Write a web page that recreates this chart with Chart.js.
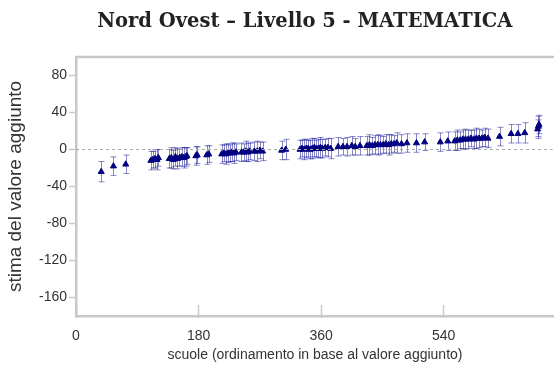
<!DOCTYPE html>
<html>
<head>
<meta charset="utf-8">
<script src="https://cdn.jsdelivr.net/npm/chart.js@4.4.0/dist/chart.umd.min.js"></script>
<style>
  html, body { margin: 0; padding: 0; background: #fff; }
</style>
</head>
<body>
<canvas id="myChart" width="554" height="376"></canvas>
<script>
// ranking position of each school (x)
const schoolRank = [
  37, 55, 73,
  110, 113, 116, 119, 121,
  137, 140, 143, 146, 149, 152, 155, 158, 161, 163,
  176, 178, 192, 195,
  214, 217, 220, 223, 226, 229, 232, 235,
  243, 246, 249, 252, 255, 262, 266, 270, 274,
  302, 308,
  329, 332, 335, 338, 341, 344, 347, 350, 353, 356, 359, 362, 366, 370, 374,
  385, 392, 398, 405, 410, 417,
  427, 431, 435, 439, 443, 447, 451, 455, 459, 463, 467, 471,
  478, 486, 500, 512, 535, 546,
  556, 560, 564, 568, 572, 576, 580, 584, 588, 592, 596, 600, 605,
  622, 639, 649, 659, 678, 679, 680,
];
// estimated value added
const valueAdded = [
  -24, -18, -16,
  -12, -11, -10, -11, -9,
  -10, -9, -11, -8, -10, -9, -8, -9, -8, -7,
  -7, -6, -6, -5,
  -5, -4, -5, -4, -4, -3, -4, -3,
  -3, -3, -2, -3, -2, -2, -2, -1, -2,
  -1, 0,
  0, 1, 0, 1, 1, 0, 1, 2, 1, 1, 2, 1, 2, 2, 1,
  3, 3, 3, 4, 3, 4,
  4, 5, 4, 5, 5, 5, 5, 6, 5, 6, 6, 7,
  6, 7, 7, 8, 8, 9,
  9, 10, 10, 11, 11, 11, 12, 11, 12, 12, 12, 13, 12,
  14, 17, 17, 18, 22, 25, 27,
];
// half width of the confidence interval
const errorHalf = [
  11, 10, 10,
  10, 9, 10, 11, 9,
  10, 11, 10, 10, 11, 9, 10, 11, 10, 9,
  10, 9, 10, 9,
  10, 9, 11, 10, 9, 10, 11, 9,
  10, 9, 11, 10, 9, 10, 11, 9, 10,
  10, 11,
  10, 9, 11, 10, 9, 10, 11, 10, 9, 10, 11, 10, 9, 10, 11,
  10, 9, 10, 10, 9, 10,
  10, 11, 9, 10, 11, 10, 9, 10, 11, 10, 9, 11,
  10, 10, 10, 9, 10, 10,
  10, 11, 9, 10, 11, 10, 9, 10, 11, 10, 9, 10, 10,
  10, 10, 10, 11, 10, 11, 10,
];
const xTickValues = [0, 180, 360, 540];
const yTickValues = [-160, -120, -80, -40, 0, 40, 80];
const zeroLine = [0, 700];

const axisGrey = "#c8c8c8";
const textGrey = "#333";

// vertical error bars with small caps
const errorBars = {
  id: "errorBars",
  beforeDatasetsDraw(chart) {
    const { ctx, scales: { x, y } } = chart;
    ctx.save();
    ctx.strokeStyle = "rgba(20, 20, 150, 0.5)";
    ctx.lineWidth = 1;
    schoolRank.forEach((rank, i) => {
      const px = Math.round(x.getPixelForValue(rank)) + 0.5;
      const top = y.getPixelForValue(valueAdded[i] + errorHalf[i]);
      const bottom = y.getPixelForValue(valueAdded[i] - errorHalf[i]);
      ctx.beginPath();
      ctx.moveTo(px, top);
      ctx.lineTo(px, bottom);
      ctx.moveTo(px - 3, top);
      ctx.lineTo(px + 3, top);
      ctx.moveTo(px - 3, bottom);
      ctx.lineTo(px + 3, bottom);
      ctx.stroke();
    });
    ctx.restore();
  },
};

// top frame line
const topFrame = {
  id: "topFrame",
  afterDraw(chart) {
    const { ctx, chartArea } = chart;
    ctx.save();
    ctx.strokeStyle = axisGrey;
    ctx.lineWidth = 2.5;
    ctx.beginPath();
    ctx.moveTo(chartArea.left - 1, chartArea.top);
    ctx.lineTo(chartArea.right, chartArea.top);
    ctx.stroke();
    ctx.restore();
  },
};

new Chart(document.getElementById("myChart"), {
  type: "scatter",
  data: {
    datasets: [
      {
        type: "line",
        data: zeroLine.map((v) => ({ x: v, y: 0 })),
        borderColor: "#aaa",
        borderWidth: 1,
        borderDash: [3, 3],
        pointRadius: 0,
      },
      {
        data: schoolRank.map((r, i) => ({ x: r, y: valueAdded[i] })),
        pointStyle: "triangle",
        pointRadius: 3.5,
        backgroundColor: "#000080",
        borderColor: "#000080",
        borderWidth: 1,
      },
    ],
  },
  options: {
    responsive: false,
    animation: false,
    layout: { padding: 0, autoPadding: false },
    plugins: {
      legend: { display: false },
      tooltip: { enabled: false },
      title: {
        display: true,
        fullSize: false,
        // trailing spaces nudge the centred title a little to the left
        text: "Nord Ovest \u2013 Livello 5 - MATEMATICA   ",
        color: "#222",
        font: { family: "DejaVu Serif", size: 19.5, weight: "bold" },
        padding: { top: 10, bottom: 23.6 },
      },
    },
    scales: {
      x: {
        type: "linear",
        min: 0,
        max: 702,
        afterBuildTicks: (s) => { s.ticks = xTickValues.map((v) => ({ value: v })); },
        afterFit: (s) => { s.height = 60; },
        grid: {
          drawOnChartArea: false,
          tickLength: -11,
          tickColor: axisGrey,
          tickWidth: 1.5,
        },
        border: { color: axisGrey, width: 2.5 },
        ticks: {
          color: textGrey,
          padding: 23,
          font: { family: "Liberation Sans", size: 14 },
        },
        title: {
          display: true,
          text: "scuole (ordinamento in base al valore aggiunto)",
          color: textGrey,
          font: { family: "Liberation Sans", size: 14 },
          padding: { top: 0, bottom: 12 },
        },
      },
      y: {
        min: -180,
        max: 100,
        afterBuildTicks: (s) => { s.ticks = yTickValues.map((v) => ({ value: v })); },
        afterFit: (s) => { s.width = 76; },
        grid: {
          drawOnChartArea: false,
          tickLength: 7,
          tickColor: axisGrey,
          tickWidth: 1.5,
        },
        border: { color: axisGrey, width: 2.5 },
        ticks: {
          color: textGrey,
          padding: 2,
          font: { family: "Liberation Sans", size: 14 },
        },
        title: {
          display: true,
          text: "stima del valore aggiunto",
          color: textGrey,
          font: { family: "Liberation Sans", size: 19 },
          padding: { top: 4, bottom: 4 },
        },
      },
    },
  },
  plugins: [errorBars, topFrame],
});
</script>
</body>
</html>
